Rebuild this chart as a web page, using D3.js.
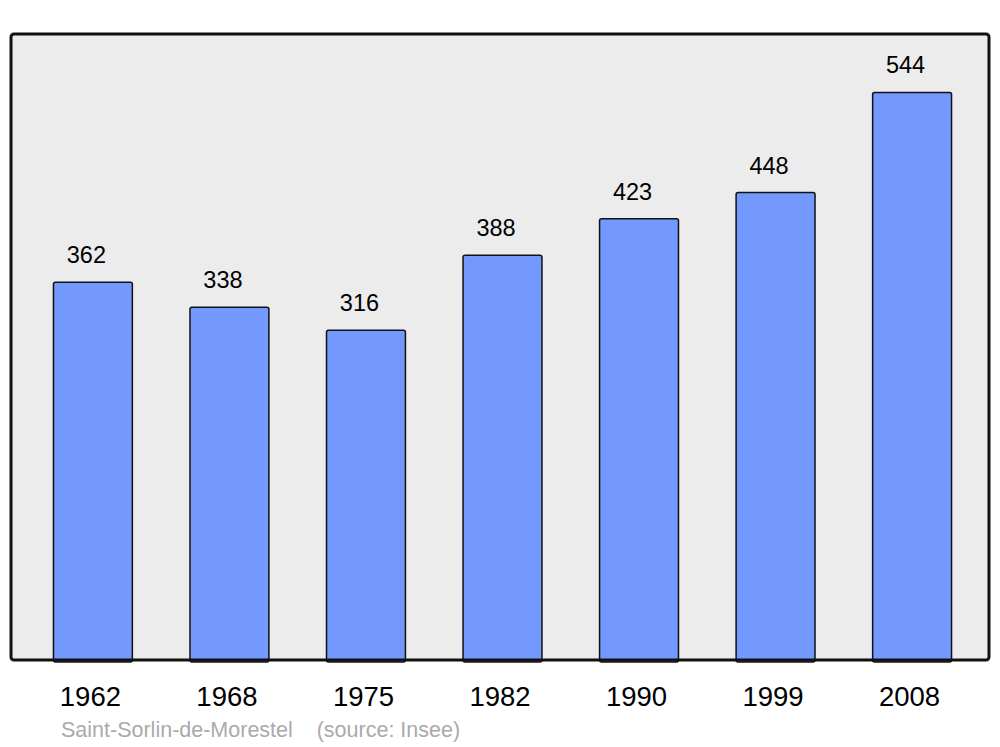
<!DOCTYPE html>
<html><head><meta charset="utf-8">
<script src="https://cdn.jsdelivr.net/npm/d3@7"></script>
<style>body{margin:0;background:#fff}svg{display:block;font-family:"Liberation Sans",Arial,sans-serif}</style>
</head><body>
<script>
const years = ["1962","1968","1975","1982","1990","1999","2008"];
const population = [362,338,316,388,423,448,544];
const caption = "Saint-Sorlin-de-Morestel    (source: Insee)";

const W = 1000, H = 747;
const svg = d3.select("body").append("svg").attr("width", W).attr("height", H);
const pLeft = 11, pRight = 989, pTop = 34, pBottom = 660;

const x = d3.scaleBand().domain(years).range([14, 991]).paddingInner(0.422).paddingOuter(0.289);
const y = d3.scaleLinear().domain([0, 600]).range([pBottom, pTop]);

svg.append("rect").attr("x", pLeft).attr("y", pTop).attr("width", pRight-pLeft).attr("height", pBottom-pTop)
  .attr("rx", 3).attr("fill", "#ececec").attr("stroke", "none");

svg.selectAll("rect.bar").data(years).join("rect").attr("class","bar")
  .attr("x", d => x(d)).attr("width", x.bandwidth())
  .attr("y", (d,i) => y(population[i])).attr("height", (d,i) => pBottom - y(population[i]) + 2)
  .attr("rx", 2).attr("fill", "#7399ff").attr("stroke", "#111").attr("stroke-width", 1.5);

svg.append("rect").attr("x", pLeft).attr("y", pTop).attr("width", pRight-pLeft).attr("height", pBottom-pTop)
  .attr("rx", 3).attr("fill", "none").attr("stroke", "#111").attr("stroke-width", 3);

svg.selectAll("text.val").data(years).join("text").attr("class","val")
  .attr("x", d => x(d) + x.bandwidth()/2 - 6.5)
  .attr("y", (d,i) => y(population[i]) - 19)
  .attr("text-anchor","middle").attr("font-size", 23.5).attr("fill","#000")
  .text((d,i) => population[i]);

svg.selectAll("text.year").data(years).join("text").attr("class","year")
  .attr("x", d => x(d) + x.bandwidth()/2 - 2.5)
  .attr("y", 706)
  .attr("text-anchor","middle").attr("font-size", 27.5).attr("fill","#000")
  .text(d => d);

svg.append("text").attr("x", 61).attr("y", 737).attr("font-size", 21.5).attr("fill", "#aaaaaa")
  .attr("xml:space","preserve").style("white-space","pre").text(caption);
</script>
</body></html>
